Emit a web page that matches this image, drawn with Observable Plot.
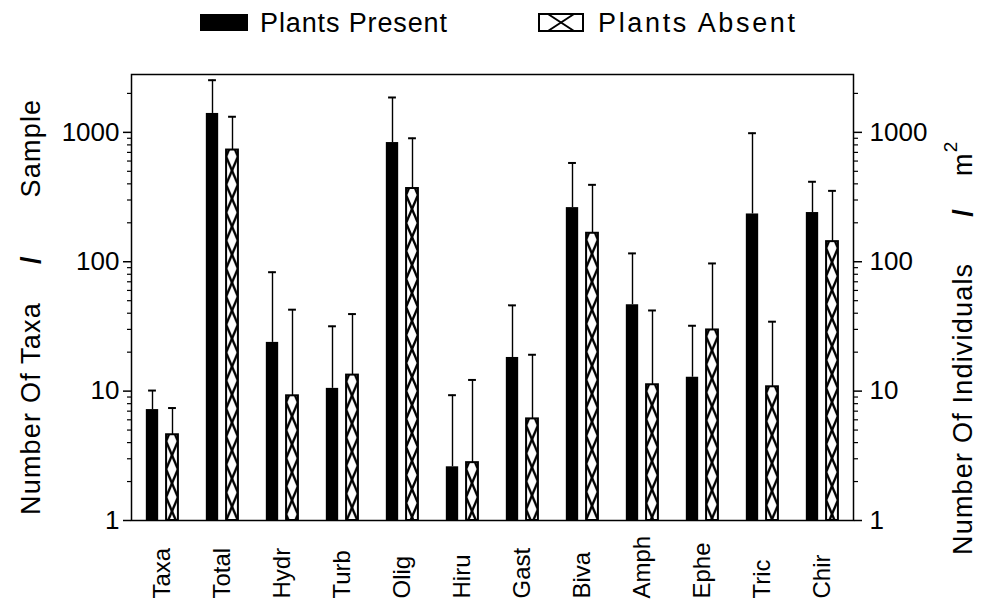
<!DOCTYPE html>
<html><head><meta charset="utf-8">
<script src="https://cdn.jsdelivr.net/npm/d3@7"></script>
<script src="https://cdn.jsdelivr.net/npm/@observablehq/plot@0.6"></script>
<style>
body{margin:0;background:#fff}
svg text{font-family:"Liberation Sans",Arial,sans-serif}
</style></head><body><div id="chart"></div>
<script>
const categories = ["Taxa","Total","Hydr","Turb","Olig","Hiru","Gast","Biva","Amph","Ephe","Tric","Chir"];
const presentMean  = [7.2, 1400, 23.8, 10.5, 834, 2.6, 18.2, 262, 46.5, 12.8, 234, 240];
const presentUpper = [10.1, 2530, 83, 31.7, 1860, 9.3, 46, 580, 116, 32, 985, 415];
const absentMean   = [4.6, 730, 9.2, 13.3, 368, 2.8, 6.1, 166, 11.2, 29.7, 10.8, 143];
const absentUpper  = [7.4, 1320, 42.6, 39.4, 900, 12.2, 19.1, 393, 42, 97, 34.4, 353];
const seriesNames = ["Plants Present", "Plants Absent"];
const majorTicks = [1, 10, 100, 1000];
const minorTicks = [2,3,4,5,6,7,8,9,20,30,40,50,60,70,80,90,200,300,400,500,600,700,800,900,2000];
const leftTitle = ["Number Of Taxa", "/", "Sample"];
const rightTitle = ["Number Of Individuals", "/", "m", "2"];

const present = categories.map((c, i) => ({cat: c, mean: presentMean[i], upper: presentUpper[i]}));
const absent  = categories.map((c, i) => ({cat: c, mean: absentMean[i], upper: absentUpper[i]}));

const W = 990, H = 606, ML = 131, MR = 137, MT = 74, MB = 86;
const step = (W - ML - MR) / categories.length;
const half = step / 2;
const off = 10;      // bar center offset from band center
const bw = 12.5;     // black bar width
const ww = 12;       // white bar width (plus stroke)
const cap = 4;       // half cap width
const font = 26;
const titleFont = 27;

const chart = Plot.plot({
  width: W, height: H,
  marginLeft: ML, marginRight: MR, marginTop: MT, marginBottom: MB,
  x: {domain: categories, padding: 0, axis: null},
  y: {type: "log", domain: [1, 2800], axis: null, label: null},
  style: {fontFamily: "'Liberation Sans', Arial, sans-serif", background: "white", color: "black"},
  marks: [
    Plot.barY(present, {x: "cat", y1: 1, y2: "mean", fill: "black",
      insetLeft: half - off - bw / 2, insetRight: step - (half - off + bw / 2)}),
    Plot.barY(absent, {x: "cat", y1: 1, y2: "mean", fill: "white", stroke: "black", strokeWidth: 2,
      insetLeft: half + off - ww / 2, insetRight: step - (half + off + ww / 2)}),
    Plot.ruleX(present, {x: "cat", y1: "mean", y2: "upper", dx: -off, stroke: "black", strokeWidth: 1.4}),
    Plot.ruleX(absent, {x: "cat", y1: "mean", y2: "upper", dx: off, stroke: "black", strokeWidth: 1.4}),
    Plot.tickY(present, {x: "cat", y: "upper", stroke: "black", strokeWidth: 2,
      insetLeft: half - off - cap, insetRight: step - (half - off + cap)}),
    Plot.tickY(absent, {x: "cat", y: "upper", stroke: "black", strokeWidth: 2,
      insetLeft: half + off - cap, insetRight: step - (half + off + cap)}),
    Plot.frame({stroke: "black", strokeWidth: 1.5}),
    Plot.axisY(minorTicks, {anchor: "left", tickSize: 4, tickFormat: () => "", label: null, strokeWidth: 1.2}),
    Plot.axisY(minorTicks, {anchor: "right", tickSize: 4, tickFormat: () => "", label: null, strokeWidth: 1.2}),
    Plot.axisY(majorTicks, {anchor: "left", tickSize: 8, tickPadding: 4, fontSize: font, tickFormat: d => String(d), label: null, strokeWidth: 1.5}),
    Plot.axisY(majorTicks, {anchor: "right", tickSize: 8, tickPadding: 8, fontSize: font, tickFormat: d => String(d), label: null, strokeWidth: 1.5}),
    Plot.text(categories, {x: d => d, frameAnchor: "bottom", dy: 78, rotate: -90,
      textAnchor: "start", lineAnchor: "middle", fontSize: 24, fill: "black"})
  ]
});

const svg = d3.select(chart);
// hatch patterns anchored at each white bar's top
const defs = svg.insert("defs", ":first-child");
const barGroups = svg.selectAll("g[aria-label='bar']").nodes();
const cellH = 28;
d3.select(barGroups[1]).selectAll("rect").each(function(_, i) {
  const r = d3.select(this);
  const x = +r.attr("x"), y = +r.attr("y"), w = +r.attr("width");
  const p = defs.append("pattern").attr("id", "hatch" + i)
    .attr("patternUnits", "userSpaceOnUse")
    .attr("x", x).attr("y", y + 7).attr("width", w).attr("height", cellH);
  p.append("rect").attr("width", w).attr("height", cellH).attr("fill", "white");
  p.append("line").attr("x1", 0).attr("y1", 0).attr("x2", w).attr("y2", cellH).attr("stroke", "black").attr("stroke-width", 2.4);
  p.append("line").attr("x1", w).attr("y1", 0).attr("x2", 0).attr("y2", cellH).attr("stroke", "black").attr("stroke-width", 2.4);
  r.attr("fill", `url(#hatch${i})`);
});

// legend
const lg = svg.append("g").attr("font-size", 27).attr("fill", "black").attr("text-anchor", "start");
lg.append("rect").attr("x", 200).attr("y", 14).attr("width", 48).attr("height", 17).attr("fill", "black");
lg.append("text").attr("x", 260).attr("y", 32).attr("textLength", 187).attr("lengthAdjust", "spacing").text(seriesNames[0]);
lg.append("rect").attr("x", 539).attr("y", 14).attr("width", 44).attr("height", 17).attr("fill", "white").attr("stroke", "black").attr("stroke-width", 2);
lg.append("line").attr("x1", 548).attr("y1", 14).attr("x2", 574).attr("y2", 31).attr("stroke", "black").attr("stroke-width", 2);
lg.append("line").attr("x1", 574).attr("y1", 14).attr("x2", 548).attr("y2", 31).attr("stroke", "black").attr("stroke-width", 2);
lg.append("text").attr("x", 598).attr("y", 32).attr("textLength", 197).attr("lengthAdjust", "spacing").text(seriesNames[1]);

// axis titles
const lt = svg.append("text").attr("transform", "translate(40,515) rotate(-90)").attr("text-anchor", "start")
  .attr("font-size", titleFont).attr("letter-spacing", 1.2).attr("fill", "black");
lt.append("tspan").text(leftTitle[0]);
lt.append("tspan").attr("dx", 38).attr("font-weight", "bold").text(leftTitle[1]);
lt.append("tspan").attr("dx", 58).text(leftTitle[2]);

const rt = svg.append("text").attr("transform", "translate(972,555) rotate(-90)").attr("text-anchor", "start")
  .attr("font-size", titleFont).attr("letter-spacing", 1.2).attr("fill", "black");
rt.append("tspan").text(rightTitle[0]);
rt.append("tspan").attr("dx", 46).attr("font-weight", "bold").text(rightTitle[1]);
rt.append("tspan").attr("dx", 32).text(rightTitle[2]);
rt.append("tspan").attr("dy", -15).attr("font-size", 19).text(rightTitle[3]);

document.getElementById("chart").appendChild(chart);
</script></body></html>
